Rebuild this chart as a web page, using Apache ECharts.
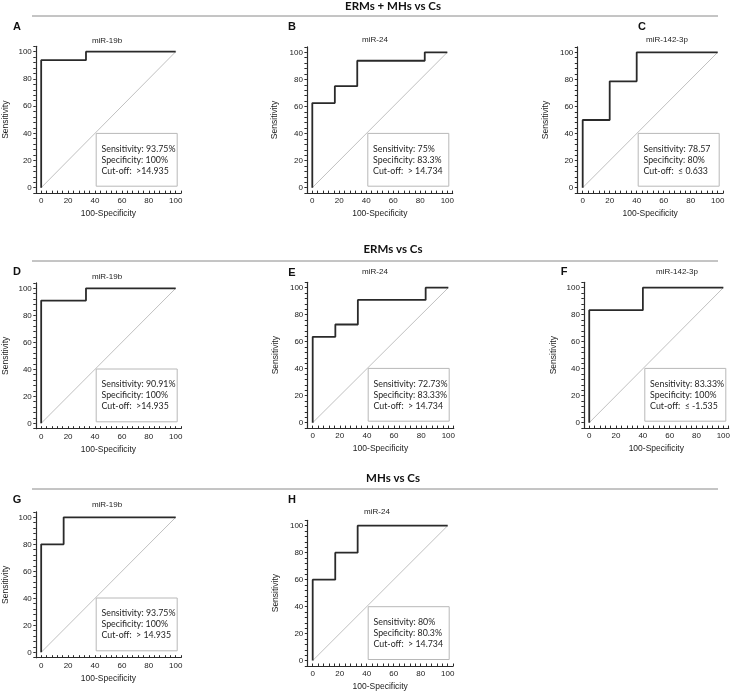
<!DOCTYPE html>
<html><head><meta charset="utf-8">
<script src="https://cdn.jsdelivr.net/npm/echarts@6/dist/echarts.min.js"></script>
<style>html,body{margin:0;padding:0;background:#fff}#c{width:733px;height:692px}</style>
</head><body><div id="c"></div><script>
// ---------- data ----------
const groupHeadings = ['ERMs + MHs vs Cs', 'ERMs vs Cs', 'MHs vs Cs'];
const panelLetters = ['A', 'B', 'C', 'D', 'E', 'F', 'G', 'H'];
const panelTitles = ['miR-19b', 'miR-24', 'miR-142-3p', 'miR-19b', 'miR-24', 'miR-142-3p', 'miR-19b', 'miR-24'];
const tickLabels = [0, 20, 40, 60, 80, 100];
const xAxisName = '100-Specificity';
const yAxisName = 'Sensitivity';

const xA = [0, 0, 33.3, 33.3, 100];
const yA = [0, 93.75, 93.75, 100, 100];
const xB = [0, 0, 16.7, 16.7, 33.3, 33.3, 83.3, 83.3, 100];
const yB = [0, 62.5, 62.5, 75, 75, 93.75, 93.75, 100, 100];
const xC = [0, 0, 20, 20, 40, 40, 100];
const yC = [0, 50, 50, 78.57, 78.57, 100, 100];
const xD = [0, 0, 33.3, 33.3, 100];
const yD = [0, 90.91, 90.91, 100, 100];
const xE = [0, 0, 16.7, 16.7, 33.3, 33.3, 83.3, 83.3, 100];
const yE = [0, 63.64, 63.64, 72.73, 72.73, 90.91, 90.91, 100, 100];
const xF = [0, 0, 40, 40, 100];
const yF = [0, 83.33, 83.33, 100, 100];
const xG = [0, 0, 16.7, 16.7, 100];
const yG = [0, 80, 80, 100, 100];
const xH = [0, 0, 16.7, 16.7, 33.3, 33.3, 100];
const yH = [0, 60, 60, 80, 80, 100, 100];
const diagX = [0, 100];
const diagY = [0, 100];

const sensitivityText = ['93.75%', '75%', '78.57', '90.91%', '72.73%', '83.33%', '93.75%', '80%'];
const specificityText = ['100%', '83.3%', '80%', '100%', '83.33%', '100%', '100%', '80.3%'];
const cutoffText = ['>14.935', '> 14.734', '\u2264 0.633', '>14.935', '> 14.734', '\u2264 -1.535', '> 14.935', '> 14.734'];

const curvesX = [xA, xB, xC, xD, xE, xF, xG, xH];
const curvesY = [yA, yB, yC, yD, yE, yF, yG, yH];

// ---------- layout (pixels) ----------
// [x at 0, x at 100, y at 0, y at 100]
const geom = [
  [40.7, 175.7, 187.7, 51.7],
  [312.3, 447.3, 187.7, 52.3],
  [582.7, 717.7, 187.7, 52.3],
  [40.7, 175.7, 423.3, 288.3],
  [312.7, 448.3, 422.7, 287.7],
  [589.3, 725.0, 422.7, 287.7],
  [40.7, 175.7, 652.3, 517.3],
  [312.7, 447.7, 661.0, 525.7]
];
const letterPos = [[17, 27], [292, 27], [642, 27], [17, 272], [292, 273], [564, 272], [17, 500], [292, 500]];
const titlePos = [[107, 41], [375, 40], [667, 40], [107, 277], [375, 272], [677, 272], [107, 505], [377, 512]];
const yNameX = [5, 275, 546, 5, 276, 554, 5, 276];
const headingPos = [[393, 6], [393, 249], [393, 478]];
const ruleY = [16, 261, 489];

const pair = (xs, ys) => xs.map((v, i) => [v, ys[i]]);
const isMajor = v => { const r = Math.round(v); return Math.abs(r - v) < 1e-6 && r % 20 === 0 && r >= 0 && r <= 100; };

const grids = [], xAxes = [], yAxes = [], series = [], graphics = [];
const axisColor = '#2b2b2b';
const labelFont = 'Liberation Sans, Arial, sans-serif';

geom.forEach((g, i) => {
  const [x0, x100, y0, y100] = g;
  const sx = (x100 - x0) / 100, sy = (y0 - y100) / 100;
  const left = x0 - 4 * sx, top = y100 - 4 * sy;
  grids.push({ left: left, top: top, width: 108 * sx, height: 108 * sy, containLabel: false });
  xAxes.push({
    gridIndex: i, type: 'value', min: -4, max: 104, interval: 4,
    axisLine: { show: true, onZero: false, lineStyle: { color: axisColor, width: 1.2 } },
    axisTick: { show: true, inside: true, length: 2.5, lineStyle: { color: axisColor, width: 1 } },
    axisLabel: { formatter: v => isMajor(v) ? String(Math.round(v)) : '', margin: 4, fontSize: 8, color: '#222', fontFamily: labelFont, showMinLabel: true, showMaxLabel: true },
    splitLine: { show: false },
    name: xAxisName, nameLocation: 'middle', nameGap: 16,
    nameTextStyle: { fontSize: 8.5, color: '#222', fontFamily: labelFont }
  });
  yAxes.push({
    gridIndex: i, type: 'value', min: -4, max: 104, interval: 4,
    axisLine: { show: true, onZero: false, lineStyle: { color: axisColor, width: 1.2 } },
    axisTick: { show: true, inside: false, length: 2.5, lineStyle: { color: axisColor, width: 1 } },
    axisLabel: { formatter: v => isMajor(v) ? String(Math.round(v)) : '', margin: 4, fontSize: 8, color: '#222', fontFamily: labelFont, showMinLabel: true, showMaxLabel: true },
    splitLine: { show: false },
    name: yAxisName, nameLocation: 'middle', nameGap: Math.max(4, left - yNameX[i] - 4.5),
    nameTextStyle: { fontSize: 8.5, color: '#222', fontFamily: labelFont }
  });
  series.push({
    type: 'line', xAxisIndex: i, yAxisIndex: i, data: pair(diagX, diagY),
    showSymbol: false, silent: true, z: 2,
    lineStyle: { color: '#b0b0b0', width: 0.8 }
  });
  series.push({
    type: 'line', xAxisIndex: i, yAxisIndex: i, data: pair(curvesX[i], curvesY[i]),
    showSymbol: false, silent: true, z: 3,
    lineStyle: { color: '#2a2a2a', width: 1.8 }
  });
  // annotation box
  const bx = x0 + 55.5, by = y0 - 54.3;
  graphics.push({
    type: 'rect', z: 10, shape: { x: bx, y: by, width: 81, height: 52.8 },
    style: { fill: '#fff', stroke: '#b8b8b8', lineWidth: 1 }
  });
  const lines = ['Sensitivity: ' + sensitivityText[i], 'Specificity: ' + specificityText[i], 'Cut-off:  ' + cutoffText[i]];
  lines.forEach((t, k) => {
    graphics.push({
      type: 'text', z: 11, x: bx + 5.3, y: by + 15 + 11 * k, scaleX: 0.88, scaleY: 1,
      style: { text: t, x: 0, y: 0, fontSize: 10, fontFamily: 'Lato, sans-serif', fill: '#1e1e1e', verticalAlign: 'middle', align: 'left' }
    });
  });
  graphics.push({
    type: 'text', z: 11,
    style: { text: panelLetters[i], x: letterPos[i][0], y: letterPos[i][1], fontSize: 11, fontWeight: 'bold', fontFamily: labelFont, fill: '#111', verticalAlign: 'middle', align: 'center' }
  });
  graphics.push({
    type: 'text', z: 11,
    style: { text: panelTitles[i], x: titlePos[i][0], y: titlePos[i][1], fontSize: 8, fontFamily: labelFont, fill: '#222', verticalAlign: 'middle', align: 'center' }
  });
});

groupHeadings.forEach((h, k) => {
  graphics.push({
    type: 'text', z: 11,
    style: { text: h, x: headingPos[k][0], y: headingPos[k][1], fontSize: 11.5, fontWeight: 'bold', fontFamily: 'Lato, sans-serif', fill: '#111', verticalAlign: 'middle', align: 'center' }
  });
  graphics.push({
    type: 'line', z: 11,
    shape: { x1: 32, y1: ruleY[k], x2: 718, y2: ruleY[k] },
    style: { stroke: '#8a8a8a', lineWidth: 1 }
  });
});

const chart = echarts.init(document.getElementById('c'), null, { renderer: 'canvas' });
chart.setOption({
  animation: false,
  backgroundColor: '#fff',
  grid: grids, xAxis: xAxes, yAxis: yAxes, series: series,
  graphic: graphics
});
</script></body></html>
